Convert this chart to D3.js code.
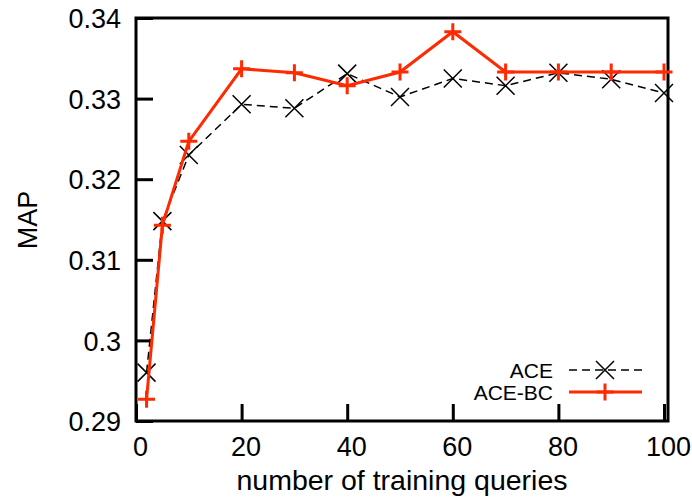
<!DOCTYPE html>
<html>
<head>
<meta charset="utf-8">
<script src="https://cdn.jsdelivr.net/npm/d3@7"></script>
<style>
  html, body { margin: 0; padding: 0; background: #fff; }
  svg { display: block; }
  text { font-family: "Liberation Sans", Arial, Helvetica, sans-serif; fill: #000; }
</style>
</head>
<body>
<svg id="chart" width="692" height="497"></svg>
<script>
// Training-set sizes (x) and MAP scores for the two methods
const trainingQueries = [2, 5, 10, 20, 30, 40, 50, 60, 70, 80, 90, 100];
const aceMap   = [0.2960, 0.3148, 0.3230, 0.3293, 0.3288, 0.3331, 0.3302, 0.3325, 0.3316, 0.3332, 0.3324, 0.3307];
const aceBcMap = [0.2927, 0.3143, 0.3247, 0.3337, 0.3332, 0.3316, 0.3333, 0.3383, 0.3333, 0.3333, 0.3333, 0.3333];
const xTicks = [0, 20, 40, 60, 80, 100];
const yTicks = [0.29, 0.30, 0.31, 0.32, 0.33, 0.34];
const seriesNames = ["ACE", "ACE-BC"];

const svg = d3.select("#chart");
const plotLeft = 136, plotRight = 668, plotTop = 18, plotBottom = 421;

const x = d3.scaleLinear().domain([0, 100]).range([plotLeft, 664]);
const y = d3.scaleLinear().domain([0.29, 0.34]).range([plotBottom, plotTop]);

const red = "#ff2a00";
const tickLen = 17;

// Plot border
svg.append("rect")
  .attr("x", plotLeft).attr("y", plotTop)
  .attr("width", plotRight - plotLeft).attr("height", plotBottom - plotTop)
  .attr("fill", "none").attr("stroke", "#000").attr("stroke-width", 3);

// Y axis: inward ticks on the left edge
const yAxis = d3.axisLeft(y).tickValues(yTicks).tickSize(-tickLen).tickPadding(0)
  .tickFormat(d => String(+d.toFixed(2)));
const gy = svg.append("g").attr("transform", `translate(${plotLeft},0)`).call(yAxis);
gy.select(".domain").remove();
gy.selectAll(".tick line").attr("stroke", "#000").attr("stroke-width", 3);
gy.selectAll(".tick text")
  .attr("x", -15).attr("dy", "0.36em")
  .style("font-size", "27px").style("font-family", "Liberation Sans, Arial, sans-serif");

// X axis: inward ticks on the bottom edge
const xAxis = d3.axisBottom(x).tickValues(xTicks).tickSize(-tickLen).tickPadding(0);
const gx = svg.append("g").attr("transform", `translate(0,${plotBottom})`).call(xAxis);
gx.select(".domain").remove();
gx.selectAll(".tick line").attr("stroke", "#000").attr("stroke-width", 3);
gx.selectAll(".tick text")
  .attr("y", 35).attr("dy", 0).attr("dx", 4)
  .style("font-size", "27px").style("font-family", "Liberation Sans, Arial, sans-serif");

// Axis titles
svg.append("text")
  .attr("x", 402).attr("y", 490)
  .attr("text-anchor", "middle").style("font-size", "28.5px")
  .text("number of training queries");
svg.append("text")
  .attr("transform", "translate(37,220) rotate(-90)")
  .attr("text-anchor", "middle").style("font-size", "27px")
  .text("MAP");

const line = d3.line().x(d => x(d[0])).y(d => y(d[1]));
const acePts = trainingQueries.map((q, i) => [q, aceMap[i]]);
const aceBcPts = trainingQueries.map((q, i) => [q, aceBcMap[i]]);

// Marker shapes
const crossPath = (cx, cy, r) => `M${cx - r},${cy - r}L${cx + r},${cy + r}M${cx - r},${cy + r}L${cx + r},${cy - r}`;
const plusPath = (cx, cy, r) => `M${cx - r},${cy}L${cx + r},${cy}M${cx},${cy - r}L${cx},${cy + r}`;

// ACE: dashed black line with X markers
svg.append("path").datum(acePts)
  .attr("d", line).attr("fill", "none")
  .attr("stroke", "#000").attr("stroke-width", 1.5).attr("stroke-dasharray", "8,5");
svg.append("g").selectAll("path").data(acePts).join("path")
  .attr("d", d => crossPath(x(d[0]), y(d[1]), 9))
  .attr("stroke", "#000").attr("stroke-width", 1.5).attr("fill", "none");

// ACE-BC: solid red line with + markers
svg.append("path").datum(aceBcPts)
  .attr("d", line).attr("fill", "none")
  .attr("stroke", red).attr("stroke-width", 3);
svg.append("g").selectAll("path").data(aceBcPts).join("path")
  .attr("d", d => plusPath(x(d[0]), y(d[1]), 8.5))
  .attr("stroke", red).attr("stroke-width", 3).attr("fill", "none");

// Legend
const legendRows = [
  { name: seriesNames[0], cy: 370, color: "#000", w: 1.5, dash: "8,5", mark: crossPath, r: 9 },
  { name: seriesNames[1], cy: 392, color: red, w: 3, dash: null, mark: plusPath, r: 8.5 }
];
legendRows.forEach(row => {
  svg.append("text")
    .attr("x", 553).attr("y", row.cy).attr("dy", "0.36em")
    .attr("text-anchor", "end").style("font-size", "21px")
    .text(row.name);
  svg.append("path")
    .attr("d", `M569,${row.cy}L642,${row.cy}`)
    .attr("stroke", row.color).attr("stroke-width", row.w)
    .attr("stroke-dasharray", row.dash);
  svg.append("path")
    .attr("d", row.mark(605, row.cy, row.r))
    .attr("stroke", row.color).attr("stroke-width", row.w).attr("fill", "none");
});
</script>
</body>
</html>
